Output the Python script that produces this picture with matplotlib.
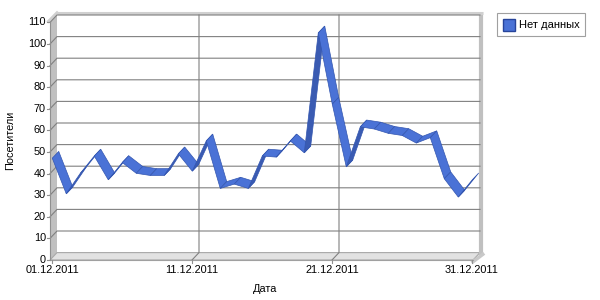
import matplotlib.pyplot as plt
from matplotlib.patches import Polygon, Patch

# Data
days = list(range(1, 32))
visitors = [47, 30.5, 40, 48, 37, 45, 40, 39, 39, 49, 41, 55, 33, 35, 33, 48,
            47.5, 55, 49.5, 105, 72, 43, 61.5, 60.5, 58.5, 57.5, 54, 56.5,
            37.5, 29, 37]
tick_days = [1, 11, 21, 31]
tick_labels = ['01.12.2011', '11.12.2011', '21.12.2011', '31.12.2011']
y_ticks = list(range(0, 111, 10))
series_name = 'Нет данных'

plt.rcParams['font.family'] = ['Liberation Sans', 'DejaVu Sans']
FS = 7.8

# pixel scale of the front axes
PX_X = 14.0     # px per day
PX_Y = 2.16     # px per visitor
DX = 7 / PX_X   # depth offset (data units)
DY = 7.4 / PX_Y
XL = 1 - 2 / PX_X
XR = 31 + 1 / PX_X
YT = 110

fig = plt.figure(figsize=(6, 3), dpi=100)
ax = fig.add_axes([0, 0, 1, 1])
x0 = 1 - 52 / PX_X
ax.set_xlim(x0, x0 + 600 / PX_X)
ax.set_ylim(-40 / PX_Y, 260 / PX_Y)
ax.axis('off')

grid_c = '#808080'

# left side wall and floor
ax.add_patch(Polygon([(XL, 0), (XL, YT), (XL + DX, YT + DY), (XL + DX, DY)],
                     closed=True, fc='#c0c0c0', ec='none', zorder=1))
ax.add_patch(Polygon([(XL, 0), (XR, 0), (XR + DX, DY), (XL + DX, DY)],
                     closed=True, fc='#e2e2e2', ec='#a8a8a8', lw=0.8, zorder=1))
# back wall borders
ax.plot([XR + DX + 0.1, XR + DX + 0.1], [DY - 1.5, YT + DY + 1.5], color='#c0c0c0', lw=3, zorder=1, solid_capstyle='butt')
ax.plot([XL + DX, XR + DX + 0.2], [YT + DY + 1.0, YT + DY + 1.0], color='#d0d0d0', lw=2.2, zorder=1, solid_capstyle='butt')
ax.plot([XL - 0.1, XL + DX], [YT + 0.5, YT + DY + 1.0], color='#d0d0d0', lw=2.2, zorder=1)
ax.plot([XR, XR + DX + 0.2], [-0.8, DY - 0.8], color='#c8c8c8', lw=2.5, zorder=1)

# horizontal grid
for v in y_ticks[1:]:
    ax.plot([XL, XL + DX, XR + DX], [v, v + DY, v + DY], color=grid_c, lw=0.8, zorder=2)
# vertical grid
for d in tick_days[1:-1]:
    ax.plot([d, d + DX, d + DX], [0, DY, YT + DY], color=grid_c, lw=0.8, zorder=2)

# front axes
ax.plot([XL, XL], [0, YT], color='#909090', lw=0.8, zorder=3)
ax.plot([XL, XR], [0, 0], color='#a0a0a0', lw=0.8, zorder=3)
for v in y_ticks:
    ax.plot([XL - 3 / PX_X, XL], [v, v], color='#909090', lw=0.8, zorder=3)
    ax.text(XL - 4 / PX_X, v, str(v), ha='right', va='center', fontsize=FS)
for d, lab in zip(tick_days, tick_labels):
    ax.plot([d, d], [0, -3 / PX_Y], color='#909090', lw=0.8, zorder=3)
    ax.text(d, -5 / PX_Y, lab, ha='center', va='top', fontsize=FS)

ax.text(x0 + 10 / PX_X, 120 / PX_Y, 'Посетители', rotation=90,
        ha='center', va='center', fontsize=FS)
ax.text(x0 + 265 / PX_X, -29 / PX_Y, 'Дата', ha='center', va='center', fontsize=FS)

# ribbon
a, b = 0.04, 0.96
top_c, under_c, edge_c = '#4a72d6', '#3a5bb2', '#3356b0'
for i in range(len(days) - 1):
    d1, d2 = days[i], days[i + 1]
    v1, v2 = visitors[i], visitors[i + 1]
    quad = [(d1 + a * DX, v1 + a * DY), (d2 + a * DX, v2 + a * DY),
            (d2 + b * DX, v2 + b * DY), (d1 + b * DX, v1 + b * DY)]
    cross = PX_X * (-7.4) + PX_Y * (v2 - v1) * 7
    fc = top_c if cross < 0 else under_c
    ax.add_patch(Polygon(quad, closed=True, fc=fc, ec=edge_c, lw=0.5, zorder=5))

# legend
handle = Patch(facecolor='#4a72d6', edgecolor='#27449a', label=series_name)
leg = ax.legend(handles=[handle], loc='upper left',
                bbox_to_anchor=(497 / 600, 1 - 13 / 300), bbox_transform=fig.transFigure,
                borderaxespad=0, fancybox=False, fontsize=8,
                handlelength=1.1, handleheight=1.3, handletextpad=0.35,
                borderpad=0.5, framealpha=1)
leg.get_frame().set_edgecolor('#a0a0a0')
leg.get_frame().set_linewidth(0.8)

fig.savefig('out.png', dpi=100)
